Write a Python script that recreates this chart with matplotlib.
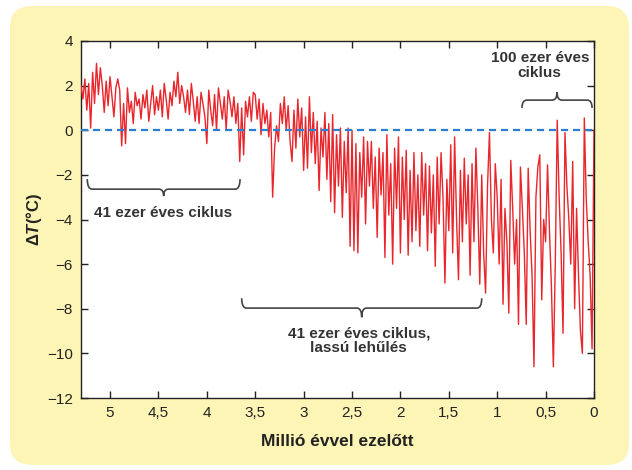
import matplotlib
matplotlib.use("Agg")
import matplotlib.pyplot as plt
import numpy as np
from matplotlib.patches import FancyBboxPatch, PathPatch
from matplotlib.path import Path
from matplotlib.ticker import FuncFormatter

# temperature anomaly, one value every 20 000 years, from 5.30 Myr ago to today
temp_rows = [
	[2.0, 1.4, 2.3, 0.9, 2.1, 0.1, 2.6, 1.2, 3.0, 1.6],           # 5.30
	[2.8, 2.0, 0.8, 2.2, 1.1, 2.4, 1.5, 0.6, 1.9, 2.3],           # 5.10
	[1.8, -0.7, 1.2, -0.6, 1.9, 0.8, 1.3, 0.3, 1.7, 1.1],         # 4.90
	[1.4, 0.5, 1.6, 1.0, 1.8, 0.4, 1.2, 2.0, 0.7, 1.5],           # 4.70
	[0.9, 1.8, 0.6, 2.1, 1.4, 0.5, 1.7, 1.1, 2.2, 1.5],           # 4.50
	[2.6, 1.2, 2.0, 1.5, 0.8, 1.8, 0.7, 2.1, 1.3, 0.4],           # 4.30
	[1.5, 0.3, 1.7, 1.2, 0.6, -0.6, 1.8, 0.9, 0.2, 1.6],          # 4.10
	[0.0, 1.9, 1.2, 0.5, 1.5, 0.0, 1.8, 1.3, 0.6, 1.5],           # 3.90
	[0.3, 1.2, -1.4, 1.0, -1.1, 1.3, 0.6, 1.5, 0.4, 1.7],         # 3.70
	[1.6, 0.5, 1.4, -0.2, 1.2, 0.3, 0.9, -0.3, 0.8, -3.0],        # 3.50
	[-0.8, 0.2, -0.5, 1.2, 0.3, 1.5, 0.0, 1.1, -0.5, -1.4],       # 3.30
	[0.9, -0.8, 1.4, -0.3, 1.0, -1.8, 0.6, -1.7, 1.5, -1.0],      # 3.10
	[0.8, -1.5, 0.4, -2.7, 0.1, -1.2, 0.8, -2.2, 0.3, -3.2],      # 2.90
	[0.7, -3.7, -0.2, -2.5, 0.1, -3.9, -0.5, -2.8, 0.1, -5.2],    # 2.70
	[0.0, -5.4, -0.6, -5.5, -1.0, -3.0, -0.3, -4.2, -0.5, -2.5],  # 2.50
	[-0.5, -3.5, -1.2, -4.8, -0.8, -2.9, -1.0, -5.7, -0.2, -3.8], # 2.30
	[-1.5, -6.0, -0.8, -3.5, -0.3, -5.5, -1.2, -4.0, -0.9, -5.6], # 2.10
	[-1.8, -5.0, -1.0, -4.5, -2.0, -5.2, -1.0, -3.8, -1.5, -5.4], # 1.90
	[-1.6, -4.6, -2.0, -6.1, -1.2, -4.2, -1.0, -3.0, -6.85, -2.2],# 1.70
	[-4.5, -0.65, -5.5, -0.3, -4.0, -6.7, -1.8, -5.0, -1.25, -4.2],# 1.50
	[-2.0, -6.5, -1.5, -5.0, -0.8, -3.5, -6.9, -2.0, -5.5, -7.3], # 1.30
	[-2.5, -0.1, -4.0, -5.5, -1.5, -3.0, -6.0, -2.2, -7.8, -3.5], # 1.10
	[-5.0, -8.2, -1.35, -3.5, -6.0, -4.0, -8.7, -1.65, -3.5, -5.5],# 0.90
	[-8.7, -1.7, -4.5, -6.5, -10.6, -3.0, -1.65, -1.1, -7.6, -4.0],# 0.70
	[-5.0, -1.55, -4.5, -7.0, -10.6, -6.0, 0.45, -3.0, -5.5, -9.1],# 0.50
	[-0.1, -2.5, -4.0, -6.0, -1.4, -8.0, -3.5, -6.5, -9.0, -10.0], # 0.30
	[0.55, -3.1, -5.0, -6.5, -9.8, 0.0],                          # 0.10
]
temp = np.array([v for row in temp_rows for v in row])
age = np.linspace(5.30, 0.0, len(temp))

x_ticks = [5, 4.5, 4, 3.5, 3, 2.5, 2, 1.5, 1, 0.5, 0]
y_ticks = [4, 2, 0, -2, -4, -6, -8, -10, -12]

# braces: left age, right age, bar level, end level, tip level
braces = [
	(5.235, 3.657, -2.64, -2.19, -2.95),
	(3.64, 1.16, -7.97, -7.53, -8.38),
	(0.744, 0.02, 1.35, 1.00, 1.71),
]
brace_labels = [
	(4.45, -3.7, "41 ezer éves ciklus"),
	(2.43, -9.45, "41 ezer éves ciklus,\nlassú lehűlés"),
	(0.56, 2.9, "100 ezer éves\nciklus"),
]

plt.rcParams["font.family"] = ["Liberation Sans", "DejaVu Sans"]
plt.rcParams["mathtext.fontset"] = "custom"
plt.rcParams["mathtext.rm"] = "Liberation Sans:bold"
plt.rcParams["mathtext.it"] = "Liberation Sans:italic:bold"


def draw_brace(ax, xl, xr, yb, ye, yt, d=0.05):
	c = (xl + xr) / 2.0
	s = np.sign(xr - xl) * d
	verts = [
		(xl, ye), (xl, yb), (xl + s, yb),
		(c - s, yb),
		(c, yb), (c, yt),
		(c, yb), (c + s, yb),
		(xr - s, yb),
		(xr, yb), (xr, ye),
	]
	codes = [Path.MOVETO, Path.CURVE3, Path.CURVE3, Path.LINETO,
		Path.CURVE3, Path.CURVE3, Path.CURVE3, Path.CURVE3,
		Path.LINETO, Path.CURVE3, Path.CURVE3]
	ax.add_patch(PathPatch(Path(verts, codes), fill=False, edgecolor="#444444", lw=1.2))


fig = plt.figure(figsize=(6.32, 4.70), dpi=100)
fig.patch.set_facecolor("white")
bg = FancyBboxPatch((0.10, 0.05), 6.19, 4.59, boxstyle="round,pad=0,rounding_size=0.22",
	transform=fig.dpi_scale_trans, facecolor="#fdf5b5", edgecolor="none", zorder=-5)
fig.patches.append(bg)

ax = fig.add_axes([81 / 632, 72 / 470, 513 / 632, 357 / 470])
ax.set_facecolor("white")
ax.plot(age, temp, color="#e8262b", lw=1.0, zorder=3)
ax.axhline(0, color="#2a7fd0", lw=1.6, dashes=(3.2, 2.2), zorder=4)

for xl, xr, yb, ye, yt in braces:
	draw_brace(ax, xl, xr, yb, ye, yt)
for x, y, s in brace_labels:
	ax.text(x, y, s, ha="center", va="center", fontsize=11, fontweight="bold",
		color="#333333", linespacing=1.05)

ax.set_xlim(5.3, 0)
ax.set_ylim(-12, 4)
ax.set_xticks(x_ticks)
ax.set_yticks(y_ticks)
ax.xaxis.set_major_formatter(FuncFormatter(lambda v, p: f"{v:g}".replace(".", ",")))
ax.tick_params(direction="in", length=5, width=1, top=True, right=True,
	labelsize=11, colors="#222222", pad=6)
for sp in ax.spines.values():
	sp.set_linewidth(1.0)
	sp.set_color("#222222")

ax.set_xlabel("Millió évvel ezelőtt", fontsize=12.5, fontweight="bold", labelpad=10, color="#222222")
ax.set_ylabel(r"$\Delta T$(°C)", fontsize=12, fontweight="bold", labelpad=2, color="#222222")

plt.savefig("out.png", dpi=100)
plt.close()
